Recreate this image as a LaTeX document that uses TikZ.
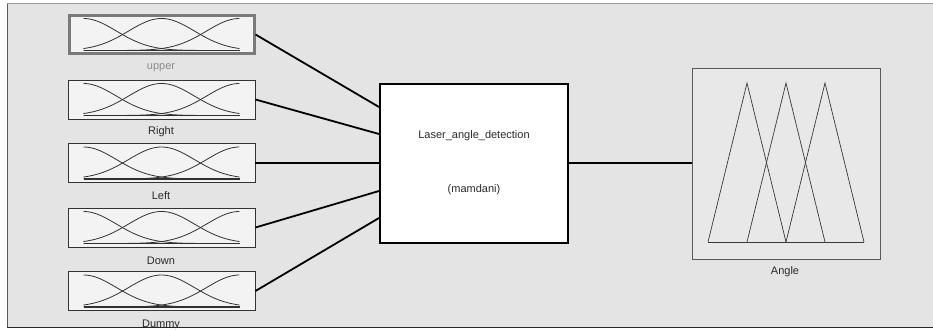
\documentclass[tikz,border=0pt]{standalone}
\usepackage{fontspec}
\setmainfont{Liberation Sans}
\usetikzlibrary{calc}
\definecolor{panel}{HTML}{E4E4E4}
\definecolor{mfbox}{HTML}{F3F3F3}
\definecolor{curve}{HTML}{303030}
\definecolor{labeltext}{HTML}{2A2A2A}
\definecolor{dimtext}{HTML}{8C8C8C}
\tikzset{
  inbox/.style={draw=black!80, line width=0.9pt, fill=mfbox, minimum width=187pt, minimum height=39pt, inner sep=0pt},
  selbox/.style={inbox, draw=black!52, line width=3pt, minimum width=185pt, minimum height=38pt},
  rulebox/.style={draw=black, line width=2pt, fill=white, minimum width=188pt, minimum height=159pt, inner sep=0pt},
  outbox/.style={draw=black!65, line width=1pt, fill=black!9, minimum width=188pt, minimum height=191pt, inner sep=0pt},
  varlabel/.style={font=\fontsize{11}{13}\selectfont, text=labeltext, inner sep=0pt},
  wire/.style={line width=1.8pt, black},
  mfline/.style={curve, line width=0.8pt},
  triline/.style={black!78, line width=0.7pt}
}
% three gaussian membership functions inside an input box (u runs over -1..1)
\newcommand{\gaussset}[1]{%
  \begin{scope}[shift={(#1.center)}]
    \draw[mfline] plot[domain=-1:1, samples=70] ({78*\x}, {16-32*exp(-2.793*(\x+1)^2)});
    \draw[mfline] plot[domain=-1:1, samples=70] ({78*\x}, {16-32*exp(-2.793*(\x)^2)});
    \draw[mfline] plot[domain=-1:1, samples=70] ({78*\x}, {16-32*exp(-2.793*(\x-1)^2)});
    \draw[curve, line width=1.2pt] (-78,16) -- (78,16);
  \end{scope}}
\begin{document}
\begin{tikzpicture}[x=1pt, y=-1pt]
  \useasboundingbox (0,0) rectangle (933,329);
  \fill[white] (0,0) rectangle (933,329);
  \fill[panel] (7,4) rectangle (933,328);

  % input variables
  \node[selbox] (in1) at (161.5,34.5) {};
  \node[inbox]  (in2) at (161.5,99.5) {};
  \node[inbox]  (in3) at (161.5,163) {};
  \node[inbox]  (in4) at (161.5,227.5) {};
  \node[inbox]  (in5) at (161.5,291) {};
  \foreach \n in {in1,in2,in3,in4,in5} {\gaussset{\n}}

  \node[varlabel, text=dimtext] (lab1) at (161,68) {upper};
  \node[varlabel] (lab2) at (161,131.5) {Right};
  \node[varlabel] (lab3) at (161,195.5) {Left};
  \node[varlabel] (lab4) at (161,260.5) {Down};
  \node[varlabel] (lab5) at (161,325) {Dummy};

  % rule block
  \node[rulebox] (mid) at (474,163) {};
  \node[varlabel] (sysname) at (474,136) {Laser\_angle\_detection};
  \node[varlabel] (systype) at (474,190) {(mamdani)};

  % output variable
  \node[outbox] (out) at (786,163.5) {};
  \node[varlabel] (lab6) at (785,272) {Angle};
  \draw[triline] (708,242) -- (747,83) -- (786,242);
  \draw[triline] (747,242) -- (786,83) -- (825,242);
  \draw[triline] (786,242) -- (825,83) -- (864,242);
  \draw[triline] (708,242) -- (864,242);

  % connectors
  \draw[wire] (in1.east) -- ($(mid.west)+(0,-56)$);
  \draw[wire] (in2.east) -- ($(mid.west)+(0,-29)$);
  \draw[wire] (in3.east) -- (mid.west);
  \draw[wire] (in4.east) -- ($(mid.west)+(0,28)$);
  \draw[wire] (in5.east) -- ($(mid.west)+(0,55)$);
  \draw[wire] (mid.east) -- (out.west |- mid.east);

  % panel frame
  \fill[white] (0,327.5) rectangle (933,329);
  \draw[black!40, line width=1pt] (7,4) -- (933,4);
  \draw[black!65, line width=1pt] (7,4) -- (7,328);
  \draw[black!85, line width=1.2pt] (7,327.8) -- (933,327.8);
\end{tikzpicture}
\end{document}
